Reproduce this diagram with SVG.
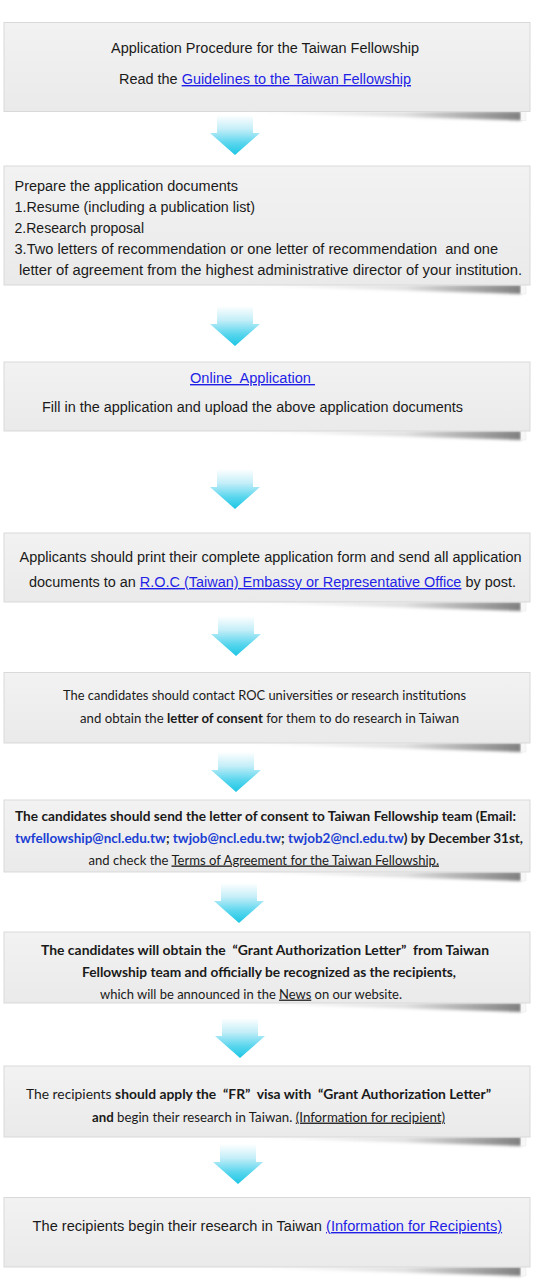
<svg xmlns="http://www.w3.org/2000/svg" width="538" height="1280" viewBox="0 0 538 1280">
<style>
.box{fill:url(#boxg);stroke:#d9d9d9;stroke-width:1}
.sh{fill:url(#shg);filter:url(#blur)}
.curl{fill:#f7f7f7;stroke:#e4e4e4;stroke-width:0.5}
.g{font-family:"Liberation Sans",Arial,sans-serif;font-size:14px;fill:#1a1a1a}
.m{font-family:Lato,"Open Sans",sans-serif;font-size:13px;fill:#1a1a1a}
.b{font-weight:bold}
.lk{fill:#1f1fe6;text-decoration:underline}
.em{fill:#1c3fd4;font-weight:bold}
.ul{text-decoration:underline}
.arrow{fill:url(#arg)}
</style>
<defs>
<linearGradient id="boxg" x1="0" y1="0" x2="0" y2="1">
<stop offset="0" stop-color="#f2f2f2"/>
<stop offset="1" stop-color="#eaeaea"/>
</linearGradient>
<linearGradient id="shg" x1="0" y1="0" x2="1" y2="0">
<stop offset="0" stop-color="#000" stop-opacity="0"/>
<stop offset="0.6" stop-color="#000" stop-opacity="0.12"/>
<stop offset="1" stop-color="#000" stop-opacity="0.5"/>
</linearGradient>
<linearGradient id="arg" x1="0" y1="0" x2="0" y2="1">
<stop offset="0" stop-color="#ffffff"/>
<stop offset="0.35" stop-color="#c4eef8"/>
<stop offset="0.7" stop-color="#5ad6ee"/>
<stop offset="1" stop-color="#1cc6e4"/>
</linearGradient>
<filter id="blur" x="-10%" y="-100%" width="120%" height="300%"><feGaussianBlur stdDeviation="1.8"/></filter>
<path id="arr" d="M-18,0 H18 V18 H25 L0,40 L-25,18 H-18 Z"/>
<path id="shadow" d="M230,0 H521 V9 L420,6 Z"/>
<path id="curlp" d="M521,-2 H526 V9 H521 Z"/>
</defs>

<g id="connectors">
<use href="#arr" class="arrow" x="235" y="115"/>
<use href="#arr" class="arrow" x="235" y="306"/>
<use href="#arr" class="arrow" x="235" y="469"/>
<use href="#arr" class="arrow" x="236" y="616"/>
<use href="#arr" class="arrow" x="236" y="752"/>
<use href="#arr" class="arrow" x="239" y="883"/>
<use href="#arr" class="arrow" x="240" y="1018"/>
<use href="#arr" class="arrow" x="238" y="1144"/>
</g>

<g id="node1">
<use href="#shadow" class="sh" y="111.5"/>
<use href="#curlp" class="curl" y="111.5"/>
<rect class="box" x="4" y="22.5" width="526" height="89"/>
<text class="g" x="111" y="53" textLength="308" lengthAdjust="spacingAndGlyphs">Application Procedure for the Taiwan Fellowship</text>
<text class="g" x="119" y="84" textLength="292" lengthAdjust="spacingAndGlyphs">Read the <tspan class="lk">Guidelines to the Taiwan Fellowship</tspan></text>
</g>

<g id="node2">
<use href="#shadow" class="sh" y="285"/>
<use href="#curlp" class="curl" y="285"/>
<rect class="box" x="4" y="166" width="526" height="119"/>
<text class="g" x="14.5" y="191" textLength="223.5" lengthAdjust="spacingAndGlyphs">Prepare the application documents</text>
<text class="g" x="14.5" y="212" textLength="240.5" lengthAdjust="spacingAndGlyphs">1.Resume (including a publication list)</text>
<text class="g" x="14.5" y="233" textLength="129.5" lengthAdjust="spacingAndGlyphs">2.Research proposal</text>
<text class="g" x="14.5" y="254" textLength="483.5" lengthAdjust="spacingAndGlyphs" xml:space="preserve">3.Two letters of recommendation or one letter of recommendation  and one</text>
<text class="g" x="19" y="275" textLength="503" lengthAdjust="spacingAndGlyphs">letter of agreement from the highest administrative director of your institution.</text>
</g>

<g id="node3">
<use href="#shadow" class="sh" y="431"/>
<use href="#curlp" class="curl" y="431"/>
<rect class="box" x="4" y="362" width="526" height="69"/>
<text class="g lk" x="190" y="383" textLength="125" lengthAdjust="spacingAndGlyphs" xml:space="preserve">Online  Application </text>
<text class="g" x="42" y="412" textLength="421" lengthAdjust="spacingAndGlyphs">Fill in the application and upload the above application documents</text>
</g>

<g id="node4">
<use href="#shadow" class="sh" y="602"/>
<use href="#curlp" class="curl" y="602"/>
<rect class="box" x="4" y="533" width="526" height="69"/>
<text class="g" x="19.6" y="562" textLength="502" lengthAdjust="spacingAndGlyphs">Applicants should print their complete application form and send all application</text>
<text class="g" x="29" y="587" textLength="487" lengthAdjust="spacingAndGlyphs">documents to an <tspan class="lk">R.O.C (Taiwan) Embassy or Representative Office</tspan> by post.</text>
</g>

<g id="node5">
<use href="#shadow" class="sh" y="743"/>
<use href="#curlp" class="curl" y="743"/>
<rect class="box" x="4" y="672.5" width="526" height="70.5"/>
<text class="m" x="63" y="700" textLength="403" lengthAdjust="spacingAndGlyphs">The candidates should contact ROC universities or research institutions</text>
<text class="m" x="80" y="723" textLength="379" lengthAdjust="spacingAndGlyphs">and obtain the <tspan class="b">letter of consent</tspan> for them to do research in Taiwan</text>
</g>

<g id="node6">
<use href="#shadow" class="sh" y="872"/>
<use href="#curlp" class="curl" y="872"/>
<rect class="box" x="4" y="800" width="526" height="72"/>
<text class="m b" x="15" y="821" textLength="501" lengthAdjust="spacingAndGlyphs">The candidates should send the letter of consent to Taiwan Fellowship team (Email:</text>
<text class="m b" x="15" y="843" textLength="508" lengthAdjust="spacingAndGlyphs" style="font-size:12.5px"><tspan class="em">twfellowship@ncl.edu.tw</tspan>; <tspan class="em">twjob@ncl.edu.tw</tspan>; <tspan class="em">twjob2@ncl.edu.tw</tspan>) by December 31st,</text>
<text class="m" x="88.5" y="864.5" textLength="350.5" lengthAdjust="spacingAndGlyphs">and check the <tspan class="ul">Terms of Agreement for the Taiwan Fellowship.</tspan></text>
</g>

<g id="node7">
<use href="#shadow" class="sh" y="1003"/>
<use href="#curlp" class="curl" y="1003"/>
<rect class="box" x="4" y="932" width="526" height="71"/>
<text class="m b" x="41" y="955" textLength="448" lengthAdjust="spacingAndGlyphs" xml:space="preserve">The candidates will obtain the  “Grant Authorization Letter”  from Taiwan</text>
<text class="m b" x="82" y="977" textLength="374" lengthAdjust="spacingAndGlyphs">Fellowship team and officially be recognized as the recipients,</text>
<text class="m" x="100" y="998.6" textLength="302" lengthAdjust="spacingAndGlyphs" style="font-size:12.5px">which will be announced in the <tspan class="ul">News</tspan> on our website.</text>
</g>

<g id="node8">
<use href="#shadow" class="sh" y="1137"/>
<use href="#curlp" class="curl" y="1137"/>
<rect class="box" x="4" y="1066" width="526" height="71"/>
<text class="m" x="26" y="1099" textLength="465" lengthAdjust="spacingAndGlyphs" xml:space="preserve">The recipients <tspan class="b">should apply the  “FR”  visa with  “Grant Authorization Letter”</tspan></text>
<text class="m" x="92" y="1121.6" textLength="353" lengthAdjust="spacingAndGlyphs"><tspan class="b">and</tspan> begin their research in Taiwan. <tspan class="ul">(Information for recipient)</tspan></text>
</g>

<g id="node9">
<use href="#shadow" class="sh" y="1267"/>
<use href="#curlp" class="curl" y="1267"/>
<rect class="box" x="4" y="1197.5" width="526" height="69.5"/>
<text class="g" x="32.6" y="1231" textLength="469.5" lengthAdjust="spacingAndGlyphs">The recipients begin their research in Taiwan <tspan class="lk">(Information for Recipients)</tspan></text>
</g>
</svg>
